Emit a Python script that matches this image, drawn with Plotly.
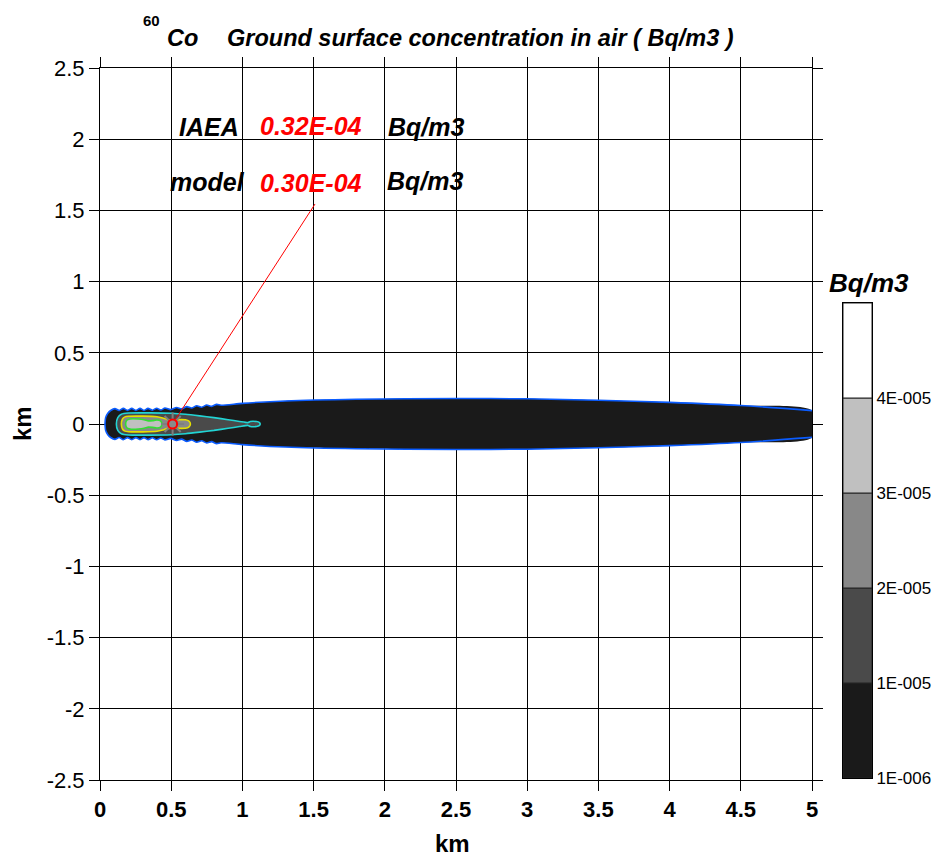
import plotly.graph_objects as go

# ---------------- data ----------------
# contour levels (Bq/m3) and their styling
levels = [1e-6, 1e-5, 2e-5, 3e-5, 4e-5]
level_labels = ["1E-006", "1E-005", "2E-005", "3E-005", "4E-005"]
band_colors = ["#1a1a1a", "#4a4a4a", "#888888", "#c0c0c0", "#ffffff"]
line_colors = ["#0a5cff", "#22d4d4", "#e6e000", "#33dd33"]

# plume half-widths (km) versus downwind distance (km) for each contour level
c1_x = [0.035, 0.040, 0.055, 0.075, 0.105, 0.134, 0.164, 0.193, 0.223, 0.252,
        0.281, 0.309, 0.337, 0.368, 0.398, 0.427, 0.456, 0.497, 0.538, 0.573,
        0.609, 0.644, 0.679, 0.714, 0.749, 0.784, 0.819, 0.850, 1.0, 1.3, 1.8,
        2.5, 3.0, 3.5, 4.0, 4.5, 5.0]
c1_w = [0.0, 0.045, 0.075, 0.095, 0.108, 0.095, 0.110, 0.096, 0.110, 0.096,
        0.110, 0.096, 0.110, 0.097, 0.111, 0.098, 0.112, 0.101, 0.116, 0.106,
        0.122, 0.112, 0.128, 0.118, 0.133, 0.124, 0.138, 0.132, 0.145, 0.162, 0.174,
        0.179, 0.177, 0.167, 0.152, 0.130, 0.094]

c2_x = [0.115, 0.125, 0.15, 0.20, 0.35, 0.50, 0.60, 0.70, 0.80, 0.90, 0.98,
        1.04, 1.055, 1.10, 1.118, 1.125]
c2_w = [0.0, 0.045, 0.068, 0.077, 0.078, 0.075, 0.068, 0.057, 0.045, 0.030, 0.018,
        0.010, 0.017, 0.017, 0.012, 0.0]

c3_x = [0.150, 0.158, 0.175, 0.20, 0.30, 0.40, 0.44, 0.47, 0.50, 0.60, 0.625, 0.635]
c3_w = [0.0, 0.035, 0.050, 0.054, 0.055, 0.051, 0.042, 0.032, 0.030, 0.030, 0.020, 0.0]

c4_x = [0.180, 0.188, 0.21, 0.27, 0.31, 0.34, 0.37, 0.40, 0.425, 0.435]
c4_w = [0.0, 0.026, 0.035, 0.035, 0.030, 0.022, 0.024, 0.028, 0.022, 0.0]

# comparison point
point_x, point_y = 0.51, 0.0
iaea_value, model_value = "0.32E-04", "0.30E-04"
unit = "Bq/m3"

x_ticks = [0, 0.5, 1, 1.5, 2, 2.5, 3, 3.5, 4, 4.5, 5]
x_tick_text = ["0", "0.5", "1", "1.5", "2", "2.5", "3", "3.5", "4", "4.5", "5"]
y_ticks = [2.5, 2, 1.5, 1, 0.5, 0, -0.5, -1, -1.5, -2, -2.5]
y_tick_text = ["2.5", "2", "1.5", "1", "0.5", "0", "-0.5", "-1", "-1.5", "-2", "-2.5"]

# ---------------- layout helpers ----------------
W, H = 933, 857
ML, MR, MT, MB = 100, 40, 68, 77
PW, PH = W - ML - MR, H - MT - MB
FONT = "Liberation Sans, Arial, sans-serif"


def px_x(p):
    return (p - ML) / PW


def px_y(p):
    return (H - MB - p) / PH


fig = go.Figure()


def closed_shape(xs, ws):
    px = list(xs) + list(reversed(xs[1:-1]))
    py = list(ws) + [-w for w in reversed(ws[1:-1])]
    return px + [px[0]], py + [py[0]]


# outermost band (open at the domain edge)
ox = list(c1_x) + list(reversed(c1_x))
oy = list(c1_w) + [-w for w in reversed(c1_w)]
fig.add_trace(go.Scatter(x=ox, y=oy, fill="toself", fillcolor=band_colors[0],
                         mode="lines", line=dict(width=0, shape="spline", smoothing=0.7),
                         hoverinfo="skip", showlegend=False))
for sign in (1, -1):
    fig.add_trace(go.Scatter(x=c1_x, y=[sign * w for w in c1_w], mode="lines",
                             line=dict(color=line_colors[0], width=1.6, shape="spline", smoothing=0.7),
                             hoverinfo="skip", showlegend=False))

# inner closed contours
for (xs, ws), fc, lc in zip([(c2_x, c2_w), (c3_x, c3_w), (c4_x, c4_w)],
                            band_colors[1:4], line_colors[1:4]):
    sx, sy = closed_shape(xs, ws)
    fig.add_trace(go.Scatter(x=sx, y=sy, fill="toself", fillcolor=fc, mode="lines",
                             line=dict(color=lc, width=1.6, shape="spline", smoothing=0.6),
                             hoverinfo="skip", showlegend=False))

# leader line from the comparison point to the value labels
fig.add_trace(go.Scatter(x=[point_x + 0.015, 1.51], y=[point_y + 0.024, 1.545], mode="lines",
                         line=dict(color="red", width=1), hoverinfo="skip", showlegend=False))
fig.add_trace(go.Scatter(x=[point_x], y=[point_y], mode="markers",
                         marker=dict(symbol="asterisk-open", size=19,
                                     line=dict(color="red", width=2)),
                         hoverinfo="skip", showlegend=False))
fig.add_trace(go.Scatter(x=[point_x], y=[point_y], mode="markers",
                         marker=dict(symbol="circle", size=9, color="#8a8a8a",
                                     line=dict(color="red", width=2)),
                         hoverinfo="skip", showlegend=False))

# legend bar drawn on its own axes
fig.add_trace(go.Bar(x=[0.5] * 5, y=[1] * 5, base=[0, 1, 2, 3, 4], width=1,
                     marker=dict(color=band_colors, line=dict(color="#222222", width=1)),
                     xaxis="x2", yaxis="y2", hoverinfo="skip", showlegend=False))

axis_common = dict(showline=True, linecolor="black", linewidth=1, mirror="ticks",
                   ticks="outside", ticklen=10, tickcolor="black", showgrid=True,
                   gridcolor="black", gridwidth=1, zeroline=False, automargin=False)

fig.update_layout(
    template="none",
    width=W, height=H, margin=dict(l=ML, r=MR, t=MT, b=MB, autoexpand=False),
    paper_bgcolor="white", plot_bgcolor="white", barmode="overlay",
    font=dict(family=FONT, color="black"),
    xaxis=dict(domain=[0, 712 / PW], range=[0, 5], tickvals=x_ticks,
               ticktext=["<b>%s</b>" % t for t in x_tick_text],
               tickfont=dict(size=22, family=FONT), **axis_common),
    yaxis=dict(range=[-2.5, 2.5], tickvals=y_ticks, ticktext=y_tick_text,
               tickfont=dict(size=22, family=FONT), **axis_common),
    xaxis2=dict(domain=[px_x(843), px_x(872)], range=[0, 1], anchor="y2",
                showticklabels=False, showgrid=False, zeroline=False, automargin=False,
                showline=True, linecolor="black", mirror=True, ticks=""),
    yaxis2=dict(domain=[px_y(778), px_y(303)], range=[0, 5], anchor="x2", side="right",
                tickvals=[0, 1, 2, 3, 4], ticktext=level_labels, ticks="",
                tickfont=dict(size=17, family=FONT), showgrid=False, zeroline=False,
                automargin=False, showline=True, linecolor="black", mirror=True),
)

ann = []


def text_at(px, py, txt, size, color="black", bold=True, italic=True):
    t = txt
    if italic:
        t = "<i>%s</i>" % t
    if bold:
        t = "<b>%s</b>" % t
    ann.append(dict(x=px_x(px), y=px_y(py), xref="paper", yref="paper", text=t,
                    showarrow=False, xanchor="center", yanchor="middle",
                    font=dict(size=size, color=color, family=FONT)))


# title
text_at(151, 20, "60", 15, italic=False)
text_at(182, 38, "Co", 23.5)
text_at(480, 38, "Ground surface concentration in air ( Bq/m3 )", 23.5)

# value labels
text_at(209, 127, "IAEA", 25)
text_at(311, 126, iaea_value, 25, color="red")
text_at(426, 127, unit, 25)
text_at(207, 182, "model", 25)
text_at(311, 183, model_value, 25, color="red")
text_at(425, 181, unit, 25)

# axis titles
text_at(452, 843, "km", 24, italic=False)
ann.append(dict(x=px_x(22), y=px_y(424), xref="paper", yref="paper", text="<b>km</b>",
                showarrow=False, textangle=-90, xanchor="center", yanchor="middle",
                font=dict(size=24, family=FONT, color="black")))

# legend title
text_at(869, 283, unit, 26)

fig.update_layout(annotations=ann)

fig.write_html("out.html")
